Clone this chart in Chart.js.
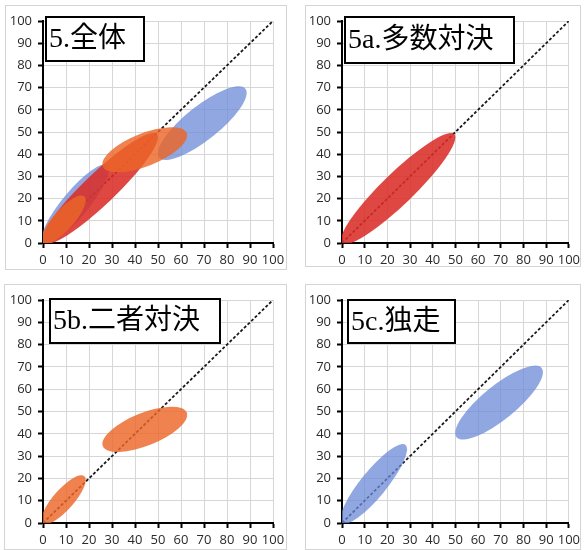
<!DOCTYPE html>
<html>
<head>
<meta charset="utf-8">
<script src="https://cdn.jsdelivr.net/npm/chart.js@4.4.1/dist/chart.umd.min.js"></script>
<style>
  body { margin: 0; background: #fff; }
  #wrap { position: relative; width: 584px; height: 550px; overflow: hidden; }
  .frame { position: absolute; border: 1px solid #d4d4d4; box-sizing: border-box; }
  canvas { position: absolute; }
</style>
</head>
<body>
<div id="wrap">
  <div class="frame" style="left:5px;top:5px;width:282px;height:265px"></div>
  <div class="frame" style="left:305px;top:5px;width:276px;height:262px"></div>
  <div class="frame" style="left:4px;top:284px;width:283px;height:266px"></div>
  <div class="frame" style="left:305px;top:284px;width:276px;height:266px"></div>
  <canvas id="c0" width="292" height="275" style="left:0;top:0"></canvas>
  <canvas id="c1" width="292" height="275" style="left:292px;top:0"></canvas>
  <canvas id="c2" width="292" height="275" style="left:0;top:275px"></canvas>
  <canvas id="c3" width="292" height="275" style="left:292px;top:275px"></canvas>
</div>
<script>
// each ellipse: [x1, y1, x2, y2, width]  (ends of the long axis, width across, in axis units)
var soloEllipses = [[0, 0, 28, 35, 11.5], [50.5, 38.5, 88, 69.5, 15]];
var multiEllipses = [[0, 0, 49.5, 49, 14]];
var twoWayEllipses = [[0, 0, 18, 21, 9], [26, 34.5, 62.5, 49.5, 14.5]];
var panelTitles = ['5.全体', '5a.多数対決', '5b.二者対決', '5c.独走'];
var diagX = [0, 100];
var diagY = [0, 100];
var axisTicks = [0, 10, 20, 30, 40, 50, 60, 70, 80, 90, 100];

var groupColors = {
    solo: 'rgba(108,138,215,0.75)',
    multi: 'rgba(218,45,40,0.88)',
    twoWay: 'rgba(236,102,40,0.82)'
};
var groupData = { solo: soloEllipses, multi: multiEllipses, twoWay: twoWayEllipses };

var panels = [
    { id: 'c0', area: [43, 21, 273, 243], box: [46, 17, 98, 44], groups: ['solo', 'multi', 'twoWay'] },
    { id: 'c1', area: [50, 21, 281, 243], box: [53, 17, 169, 46], groups: ['multi'] },
    { id: 'c2', area: [43, 25, 273, 248], box: [50, 24, 170, 44], groups: ['twoWay'] },
    { id: 'c3', area: [50, 25, 281, 248], box: [56, 25, 107, 43], groups: ['solo'] }
];

var ellipsePlugin = {
    id: 'ellipses',
    afterDatasetsDraw: function(chart, args, opts) {
        var ctx = chart.ctx, a = chart.chartArea;
        var xs = chart.scales.x, ys = chart.scales.y;
        var unit = ((xs.getPixelForValue(1) - xs.getPixelForValue(0)) +
                    (ys.getPixelForValue(0) - ys.getPixelForValue(1))) / 2;
        ctx.save();
        ctx.beginPath();
        ctx.rect(a.left, a.top, a.right - a.left, a.bottom - a.top);
        ctx.clip();
        opts.groups.forEach(function(g) {
            groupData[g].forEach(function(e) {
                var x1 = xs.getPixelForValue(e[0]), y1 = ys.getPixelForValue(e[1]);
                var x2 = xs.getPixelForValue(e[2]), y2 = ys.getPixelForValue(e[3]);
                ctx.beginPath();
                ctx.ellipse((x1 + x2) / 2, (y1 + y2) / 2,
                    Math.hypot(x2 - x1, y2 - y1) / 2, e[4] * unit / 2,
                    Math.atan2(y2 - y1, x2 - x1), 0, Math.PI * 2);
                ctx.fillStyle = groupColors[g];
                ctx.fill();
            });
        });
        ctx.restore();
    },
    afterDraw: function(chart, args, opts) {
        var ctx = chart.ctx, b = opts.box;
        ctx.save();
        ctx.fillStyle = '#fff';
        ctx.fillRect(b[0], b[1], b[2], b[3]);
        ctx.lineWidth = 2;
        ctx.strokeStyle = '#000';
        ctx.strokeRect(b[0], b[1], b[2], b[3]);
        ctx.fillStyle = '#000';
        ctx.font = '28px "Liberation Serif", "Noto Sans CJK JP", serif';
        ctx.textBaseline = 'middle';
        ctx.fillText(opts.title, b[0] + 3, b[1] + b[3] / 2 + 1);
        ctx.restore();
    }
};

var tickFont = { family: '"Open Sans", sans-serif', size: 13 };

function axis(extra) {
    var s = {
        type: 'linear',
        min: 0,
        max: 100,
        afterBuildTicks: function(sc) { sc.ticks = axisTicks.map(function(v) { return { value: v }; }); },
        grid: { color: '#d6d6d6', lineWidth: 1, tickColor: '#000', tickLength: 5, tickWidth: 2 },
        border: { color: '#000', width: 2 }
    };
    for (var k in extra) s[k] = extra[k];
    return s;
}

panels.forEach(function(p, i) {
    var el = document.getElementById(p.id);
    var H = el.height, W = el.width;
    new Chart(el, {
        type: 'scatter',
        data: {
            datasets: [{
                data: diagX.map(function(v, j) { return { x: v, y: diagY[j] }; }),
                showLine: true,
                borderColor: '#1a1a1a',
                borderWidth: 1.8,
                borderDash: [3, 2],
                pointRadius: 0
            }]
        },
        options: {
            responsive: false,
            animation: false,
            layout: { padding: { left: 0, top: p.area[1], right: W - p.area[2], bottom: 0 } },
            plugins: {
                legend: { display: false },
                tooltip: { enabled: false },
                ellipses: { groups: p.groups, box: p.box, title: panelTitles[i] }
            },
            scales: {
                x: axis({
                    position: 'bottom',
                    afterFit: function(sc) { sc.height = H - p.area[3]; },
                    ticks: { color: '#2a2a2a', padding: 4, maxRotation: 0, autoSkip: false, font: tickFont }
                }),
                y: axis({
                    position: 'left',
                    afterFit: function(sc) { sc.width = p.area[0]; },
                    ticks: { color: '#2a2a2a', padding: 6, autoSkip: false, font: tickFont }
                })
            }
        },
        plugins: [ellipsePlugin]
    });
});
</script>
</body>
</html>
